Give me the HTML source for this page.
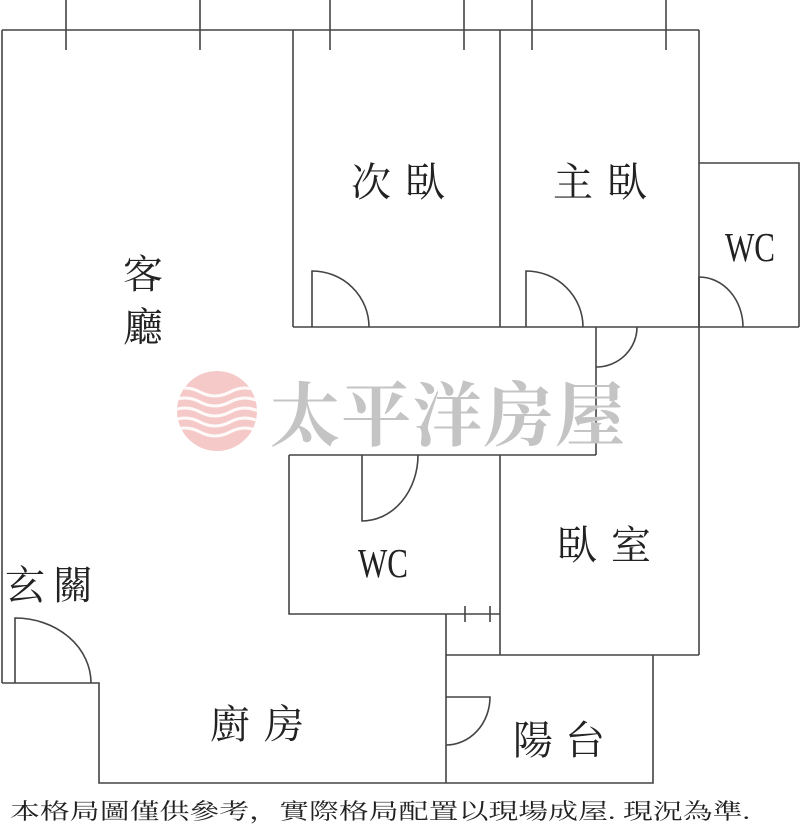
<!DOCTYPE html>
<html><head><meta charset="utf-8"><style>
html,body{margin:0;padding:0;background:#fff}
svg{display:block}
text{font-family:"Liberation Serif","Noto Serif CJK SC",serif;fill:#222}
</style></head><body>
<svg width="800" height="826" viewBox="0 0 800 826" xmlns="http://www.w3.org/2000/svg">
<g stroke="#444" stroke-width="1.6" fill="none">
<line x1="66" y1="0" x2="66" y2="50"/><line x1="200" y1="0" x2="200" y2="50"/>
<line x1="330" y1="0" x2="330" y2="50"/><line x1="464" y1="0" x2="464" y2="50"/>
<line x1="532" y1="0" x2="532" y2="50"/><line x1="666" y1="0" x2="666" y2="50"/>
<line x1="2" y1="30" x2="699" y2="30"/>
<line x1="2" y1="30" x2="2" y2="683"/>
<line x1="293" y1="30" x2="293" y2="327"/>
<line x1="500" y1="30" x2="500" y2="327"/>
<line x1="699" y1="30" x2="699" y2="655"/>
<polyline points="699,163 799,163 799,327"/>
<line x1="293" y1="327" x2="799" y2="327"/>
<path d="M312,327 V271 A57,56 0 0 1 369,327"/>
<path d="M526,327 V271 A57,56 0 0 1 583,327"/>
<path d="M699,327 V277 A44,50 0 0 1 743,327"/>
<line x1="596" y1="327" x2="596" y2="455"/>
<path d="M637,327 A41,40 0 0 1 596,367"/>
<line x1="289" y1="455" x2="596" y2="455"/>
<polyline points="289,455 289,614 500,614"/>
<line x1="500" y1="455" x2="500" y2="655"/>
<path d="M362,455 V521 A56,66 0 0 0 418,455"/>
<line x1="465" y1="606" x2="465" y2="622"/><line x1="490" y1="606" x2="490" y2="622"/>
<line x1="446" y1="614" x2="446" y2="783"/>
<line x1="446" y1="655" x2="699" y2="655"/>
<polyline points="653,655 653,783 446,783"/>
<path d="M446,697 H490 A44,48 0 0 1 446,745"/>
<polyline points="2,683 99,683 99,783 446,783"/>
<path d="M15,683 V618 A76,65 0 0 1 91,683"/>
</g>
<defs><clipPath id="c"><circle cx="217" cy="411" r="40"/></clipPath></defs>
<circle cx="217" cy="411" r="40" fill="#f6c9c9"/>
<g clip-path="url(#c)" stroke="#fff" stroke-width="3" fill="none" opacity="0.9">
<path d="M170,392 q15,-8 30,0 t30,0 t30,0"/><path d="M170,402 q15,-8 30,0 t30,0 t30,0"/>
<path d="M170,412 q15,-8 30,0 t30,0 t30,0"/><path d="M170,422 q15,-8 30,0 t30,0 t30,0"/>
<path d="M170,432 q15,-8 30,0 t30,0 t30,0"/>
</g>
<text x="270" y="440" font-size="70" style="fill:#c4c4c4;font-family:'Noto Serif CJK SC',serif;font-weight:bold" textLength="355">太平洋房屋</text>
<g font-size="40">
<text x="123" y="288">客</text><text x="123" y="341">廳</text>
<text x="351" y="196" textLength="94">次臥</text>
<text x="553" y="196" textLength="94">主臥</text>
<text x="557" y="559" textLength="94">臥室</text>
<text x="5" y="599" textLength="88">玄關</text>
<text x="210" y="738" textLength="94">廚房</text>
<text x="513" y="754" textLength="92">陽台</text>
</g>
<g font-size="38">
<text x="725" y="260" textLength="50" lengthAdjust="spacingAndGlyphs" transform="translate(0,-20) scale(1,1.08)">WC</text>
<text x="358" y="576" textLength="50" lengthAdjust="spacingAndGlyphs" transform="translate(0,-45) scale(1,1.08)">WC</text>
</g>
<text x="10" y="819" font-size="22" textLength="740" lengthAdjust="spacingAndGlyphs">本格局圖僅供參考，實際格局配置以現場成屋. 現況為準.</text>
</svg>
</body></html>
